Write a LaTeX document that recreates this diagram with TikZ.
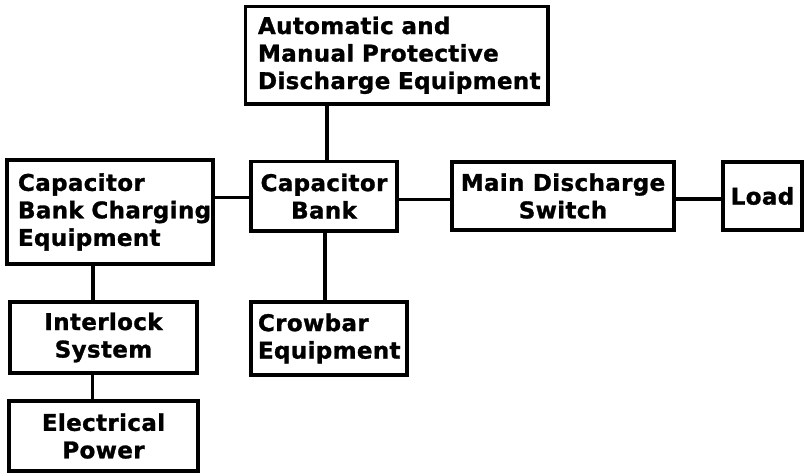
\documentclass[tikz,border=0pt]{standalone}
\usepackage{fontspec}
\newfontfamily\lab[LetterSpace=1.5,FakeBold=1.2]{DejaVu Sans}
\begin{document}
\begin{tikzpicture}[x=1pt,y=-1pt,
  box/.style={draw, line width=3.2pt, inner sep=0pt, outer sep=0pt,
    font=\lab\bfseries\fontsize{23}{27.5}\selectfont},
  conn/.style={line width=3.2pt}]
\useasboundingbox (0,0) rectangle (805,473);
\node[box, minimum width=302.5pt, minimum height=97.5pt, text width=277.5pt, align=left] (top) at (396.75,55.25)
  {\mbox{Automatic and}\\\mbox{Manual Protective}\\\mbox{Discharge Equipment}};
\node[box, minimum width=206pt, minimum height=104pt, text width=184pt, align=left] (charging) at (110,212)
  {\mbox{Capacitor}\\\mbox{Bank Charging}\\\mbox{Equipment}};
\node[box, minimum width=146pt, minimum height=69.5pt, align=center] (capbank) at (324,196.25)
  {Capacitor\\Bank};
\node[box, minimum width=222pt, minimum height=68pt, align=center] (main) at (563,196)
  {Main Discharge\\Switch};
\node[box, minimum width=79pt, minimum height=68pt] (load) at (762.5,196) {Load};
\node[box, minimum width=187pt, minimum height=71pt, align=center] (interlock) at (103.5,337.5)
  {Interlock\\System};
\node[box, minimum width=156pt, minimum height=73pt, text width=142pt, align=left] (crowbar) at (329,338.5)
  {\mbox{Crowbar}\\\mbox{Equipment}};
\node[box, minimum width=189pt, minimum height=70pt, align=center] (power) at (103.5,436)
  {Electrical\\Power};
\draw[conn] ([xshift=3pt]capbank.north) -- ([xshift=3pt]capbank.north |- top.south);
\draw[conn] ([yshift=-1.5pt]capbank.west) -- ([yshift=-1.5pt]capbank.west -| charging.east);
\draw[conn] ([yshift=-3.5pt]capbank.east) -- ([yshift=-3.5pt]capbank.east -| main.west);
\draw[conn] ([yshift=-3pt]main.east) -- ([yshift=-3pt]main.east -| load.west);
\draw[conn] ([xshift=1pt]capbank.south) -- ([xshift=1pt]capbank.south |- crowbar.north);
\draw[conn] ([xshift=-10.5pt]interlock.north) -- ([xshift=-10.5pt]interlock.north |- charging.south);
\draw[conn] ([xshift=-11pt]power.north) -- ([xshift=-11pt]power.north |- interlock.south);
\end{tikzpicture}
\end{document}
